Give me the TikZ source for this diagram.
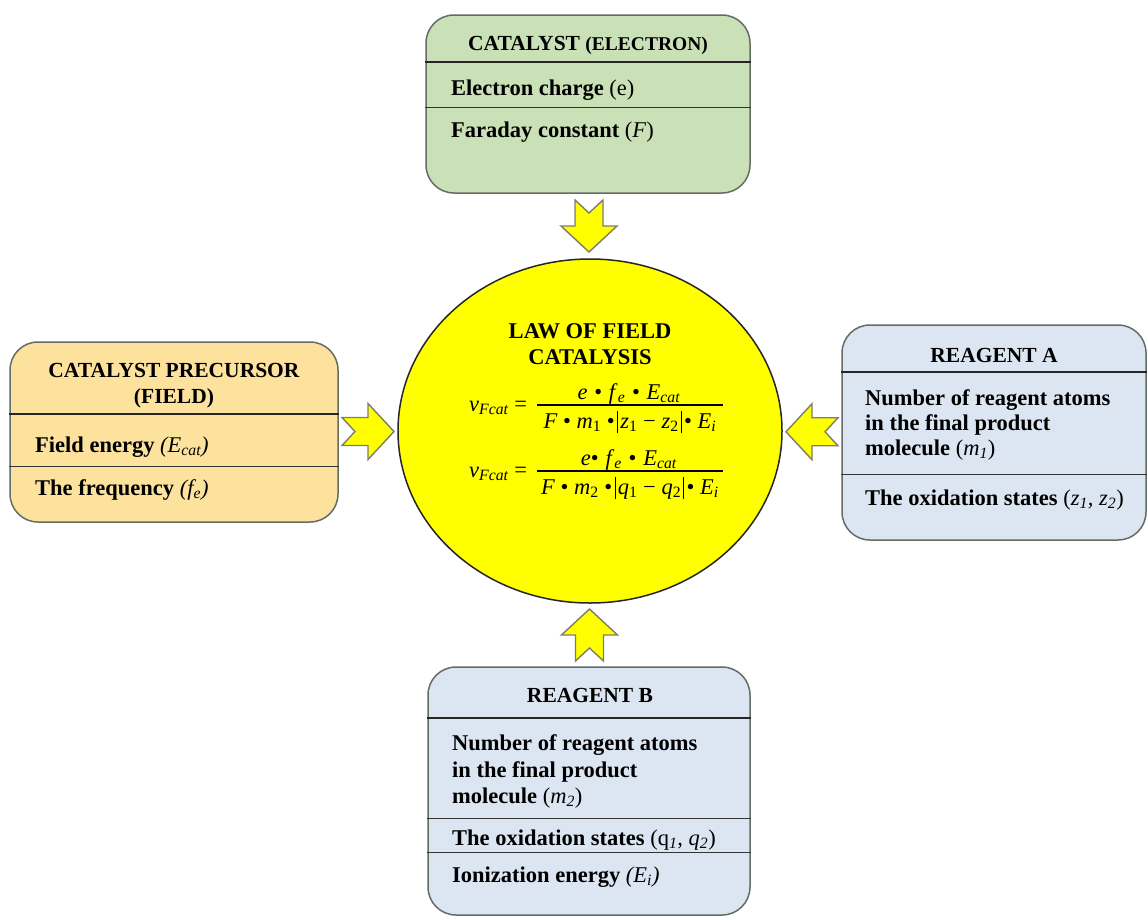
\documentclass[tikz,border=0pt]{standalone}
\usepackage{fontspec}
\setmainfont{Liberation Serif}
\usetikzlibrary{calc,shapes.geometric}
\definecolor{boxgreen}{RGB}{202,224,183}
\definecolor{boxorange}{RGB}{253,226,157}
\definecolor{boxblue}{RGB}{220,230,242}
\definecolor{boxedge}{RGB}{100,108,100}
\definecolor{arrowedge}{RGB}{125,125,105}
\definecolor{lawyellow}{RGB}{255,255,0}
\newcommand\bodyfnt{\fontsize{22.5}{27}\selectfont\bfseries}
\newcommand\headfnt{\fontsize{21.5}{26}\selectfont\bfseries}
\newcommand\eqfnt{\fontsize{22.5}{27}\selectfont}
\newcommand\hdiv[3]{\draw[#3] ([yshift=-#2pt]#1.north west) -- ([yshift=-#2pt]#1.north east);}
\newcommand\bul{\hspace{0.3em}•\hspace{0.3em}}
\newcommand\vbar{\hspace{0.1em}\rule[-5pt]{1.1pt}{22pt}\hspace{0.1em}}
\tikzset{
  card/.style={draw=boxedge, line width=1.5pt, rounded corners=28pt, inner sep=0pt},
  thickdiv/.style={line width=2.2pt, black!85},
  thindiv/.style={line width=1.4pt, black!80},
  body/.style={inner sep=0pt, anchor=base west, font=\bodyfnt},
  head/.style={inner sep=0pt, anchor=base, font=\headfnt},
  eqtxt/.style={inner sep=0pt, anchor=base, font=\eqfnt},
  arrowstyle/.style={fill=lawyellow, draw=arrowedge, line width=1.4pt, line join=miter},
  blockarrow/.pic={\draw[arrowstyle] (-26,14) -- (0,14) -- (0,28) -- (26,0) -- (0,-28) -- (0,-14) -- (-26,-14) -- (-13,0) -- cycle;}
}
\begin{document}
\begin{tikzpicture}[x=1pt,y=-1pt]
\useasboundingbox[fill=white] (0,0) rectangle (1148,919);

% boxes
\node[card, fill=boxgreen, minimum width=324pt, minimum height=178pt] (cat) at (588,104) {};
\node[card, fill=boxorange, minimum width=328pt, minimum height=180pt] (prec) at (174,432) {};
\node[card, fill=boxblue, minimum width=304pt, minimum height=215pt] (ra) at (994,432.5) {};
\node[card, fill=boxblue, minimum width=322pt, minimum height=248pt] (rb) at (589,791) {};
\node[ellipse, draw=black!85, line width=1.5pt, fill=lawyellow, minimum width=384pt, minimum height=344pt, inner sep=0pt] (law) at (590,431) {};

% dividers
\hdiv{cat}{48}{thickdiv}
\hdiv{cat}{93}{thindiv}
\hdiv{prec}{73}{thickdiv}
\hdiv{prec}{125}{thindiv}
\hdiv{ra}{48}{thickdiv}
\hdiv{ra}{150}{thindiv}
\hdiv{rb}{52}{thickdiv}
\hdiv{rb}{152}{thindiv}
\hdiv{rb}{186}{thindiv}

% top box text
\node[head] (cath) at (588,50) {CATALYST {\fontsize{19.5}{24}\selectfont(ELECTRON)}};
\node[body] (cat1) at (451,95) {Electron charge \mdseries(e)};
\node[body] (cat2) at (451,137) {Faraday constant \mdseries(\textit{F})};

% left box text
\node[head] (prech1) at (174,377) {CATALYST PRECURSOR};
\node[head] (prech2) at (174,403) {(FIELD)};
\node[body] (prec1) at (35,452) {Field energy \mdseries\itshape(E\textsubscript{cat})};
\node[body] (prec2) at (35,495) {The frequency \mdseries\itshape(f\textsubscript{e})};

% right box text
\node[head] (rah) at (994,362) {REAGENT A};
\node[body] (ra1) at (865,405) {Number of reagent atoms};
\node[body] (ra2) at (865,430) {in the final product};
\node[body] (ra3) at (865,455) {molecule \mdseries(\textit{m\textsubscript{1}})};
\node[body] (ra4) at (865,505) {The oxidation states \mdseries(\textit{z\textsubscript{1}, z\textsubscript{2}})};

% bottom box text
\node[head] (rbh) at (590,702) {REAGENT B};
\node[body] (rb1) at (452,750) {Number of reagent atoms};
\node[body] (rb2) at (452,777) {in the final product};
\node[body] (rb3) at (452,803) {molecule \mdseries(\textit{m\textsubscript{2}})};
\node[body] (rb4) at (452,845) {The oxidation states \mdseries(q\textsubscript{\textit{1}}, \textit{q\textsubscript{2}})};
\node[body] (rb5) at (452,882) {Ionization energy \mdseries\itshape(E\textsubscript{i})};

% law text
\node[inner sep=0pt, anchor=base, font=\fontsize{22.5}{27}\selectfont\bfseries] (law1) at (590,338) {LAW OF FIELD};
\node[inner sep=0pt, anchor=base, font=\fontsize{22.5}{27}\selectfont\bfseries] (law2) at (590,364) {CATALYSIS};

% equation 1
\node[inner sep=0pt, anchor=base west, font=\eqfnt] (lhs1) at (469,411) {\textit{v}\textsubscript{\textit{Fcat}} =};
\coordinate (b1l) at (537,405);
\coordinate (b1r) at (723,405);
\draw[line width=1.3pt] (b1l) -- (b1r);
\node[eqtxt] (num1) at (629,399) {\textit{e}\bul\textit{f}\textsubscript{\textit{e}}\bul\textit{E}\textsubscript{\textit{cat}}};
\node[eqtxt] (den1) at (630,428) {\textit{F} • \textit{m}\textsubscript{1} •\vbar\textit{z}\textsubscript{1} − \textit{z}\textsubscript{2}\vbar• \textit{E}\textsubscript{\textit{i}}};

% equation 2
\node[inner sep=0pt, anchor=base west, font=\eqfnt] (lhs2) at (469,477) {\textit{v}\textsubscript{\textit{Fcat}} =};
\coordinate (b2l) at (537,471);
\coordinate (b2r) at (723,471);
\draw[line width=1.3pt] (b2l) -- (b2r);
\node[eqtxt] (num2) at (629,465) {\textit{e}•\hspace{0.3em}\textit{f}\textsubscript{\textit{e}}\bul\textit{E}\textsubscript{\textit{cat}}};
\node[eqtxt] (den2) at (630,494) {\textit{F} • \textit{m}\textsubscript{2} •\vbar\textit{q}\textsubscript{1} − \textit{q}\textsubscript{2}\vbar• \textit{E}\textsubscript{\textit{i}}};

% block arrows
\pic[rotate=-90] at ($(cat.south)!0.5!(law.north)$) {blockarrow};
\pic at ($(prec.east)!0.5!(law.west)$) {blockarrow};
\pic[rotate=180] at ($(ra.west)!0.5!(law.east)$) {blockarrow};
\pic[rotate=90] at ($(rb.north)!0.5!(law.south)$) {blockarrow};
\end{tikzpicture}
\end{document}
